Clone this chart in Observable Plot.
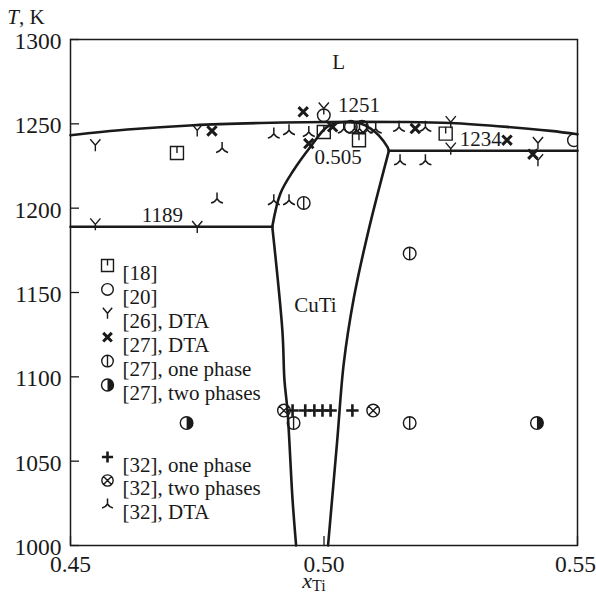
<!DOCTYPE html>
<html><head><meta charset="utf-8">
<script src="https://cdn.jsdelivr.net/npm/d3@7"></script>
<script src="https://cdn.jsdelivr.net/npm/@observablehq/plot@0.6"></script>
<style>body{margin:0;background:#fff} svg{display:block} svg text{font-family:"Liberation Serif","Tinos","Times New Roman",Times,"DejaVu Serif","Noto Serif",serif !important;}</style>
</head><body><div id="chart"></div>
<script>
// ---- axis ticks ----
const xTicks = [0.45, 0.50, 0.55];
const yTicks = [1000, 1050, 1100, 1150, 1200, 1250, 1300];

// ---- phase boundaries ----
const liquidusX = [0.45, 0.4612, 0.4743, 0.4875, 0.5007, 0.515, 0.525, 0.5361, 0.5447, 0.55];
const liquidusT = [1243.2, 1246.6, 1249.2, 1250.5, 1251.1, 1251.1, 1250.5, 1248.2, 1245.8, 1243.8];
const eutecticX = [0.45, 0.4898];
const eutecticT = [1189, 1189];
const domeX = [0.4898, 0.4914, 0.4940, 0.4973, 0.5006, 0.5030, 0.5050, 0.5072, 0.5092, 0.5108, 0.5125, 0.5128];
const domeT = [1189, 1208.7, 1222.5, 1236.3, 1248.2, 1250.8, 1251.0, 1250.2, 1247.2, 1243.2, 1236.3, 1234];
const leftX = [0.4898, 0.4918, 0.4922, 0.4928, 0.4938, 0.4945];
const leftT = [1189, 1127, 1098, 1080, 1027, 1000];
const rightX = [0.5128, 0.5088, 0.5059, 0.5039, 0.5026, 0.5008];
const rightT = [1234, 1187, 1147, 1108, 1062, 1000];
const peritecticX = [0.5128, 0.55];
const peritecticT = [1234, 1234];

// ---- experimental points ----
const ref18X = [0.4710, 0.49996, 0.5069, 0.5240];
const ref18T = [1232.7, 1245.2, 1240.3, 1244.2];
const ref20X = [0.49996, 0.5053, 0.5075, 0.5493];
const ref20T = [1255.1, 1248.2, 1248.2, 1240.3];
const ref26X = [0.4549, 0.4750, 0.49996, 0.5250, 0.5250, 0.5422, 0.5422, 0.4549, 0.4750];
const ref26T = [1237.3, 1246.1, 1259.1, 1251.0, 1235.3, 1238.6, 1228.4, 1190.4, 1188.8];
const ref27dtaX = [0.4779, 0.4959, 0.4970, 0.5017, 0.5180, 0.5361, 0.5412];
const ref27dtaT = [1245.8, 1257.1, 1238.3, 1248.2, 1247.2, 1240.3, 1232.0];
const ref27oneX = [0.4960, 0.5169, 0.4940, 0.5169];
const ref27oneT = [1203.1, 1173.1, 1072.6, 1072.6];
const ref27twoX = [0.4729, 0.5420];
const ref27twoT = [1072.6, 1072.6];
const ref32oneX = [0.4938, 0.4963, 0.4981, 0.4997, 0.5013, 0.5056];
const ref32oneT = [1080, 1080, 1080, 1080, 1080, 1080];
const ref32twoX = [0.4921, 0.5097];
const ref32twoT = [1080, 1080];
const ref32dtaX = [0.4799, 0.4901, 0.4931, 0.4970, 0.4789, 0.4901, 0.4931, 0.5039, 0.5060, 0.5070, 0.5084, 0.5102, 0.5148, 0.5200, 0.5150, 0.5200];
const ref32dtaT = [1235.7, 1244.2, 1246.2, 1245.2, 1205.7, 1204.7, 1204.7, 1247.2, 1247.2, 1247.2, 1247.2, 1247.2, 1248.2, 1248.2, 1228.4, 1228.4];

// ---- annotations ----
const noteText = ["L", "1251", "0.505", "1234", "1189", "CuTi"];
const noteX = [0.5029, 0.5069, 0.5028, 0.5309, 0.4681, 0.4983];
const noteT = [1286.5, 1260.8, 1230.2, 1240.7, 1195.6, 1142.4];

// ---- legend ----
const legendTop = ["[18]", "[20]", "[26], DTA", "[27], DTA", "[27], one phase", "[27], two phases"];
const legendBottom = ["[32], one phase", "[32], two phases", "[32], DTA"];

// ---- symbols ----
const R = s => Math.sqrt(s / Math.PI);
const symSquareTick = {draw(c, s) { const r = R(s); c.rect(-r, -r, 2 * r, 2 * r); c.moveTo(0, -r); c.lineTo(0, 0); }};
const symCircle = {draw(c, s) { const r = R(s); c.moveTo(r, 0); c.arc(0, 0, r, 0, 2 * Math.PI); }};
const symY = {draw(c, s) { const r = R(s); c.moveTo(-r * 0.85, -r); c.lineTo(0, 0); c.lineTo(r * 0.85, -r); c.moveTo(0, 0); c.lineTo(0, r); }};
const symX = {draw(c, s) { const r = R(s) * 0.72; c.moveTo(-r, -r); c.lineTo(r, r); c.moveTo(r, -r); c.lineTo(-r, r); }};
const symPhi = {draw(c, s) { const r = R(s); c.moveTo(r, 0); c.arc(0, 0, r, 0, 2 * Math.PI); c.moveTo(0, -r); c.lineTo(0, r); }};
const symHalf = {draw(c, s) { const r = R(s); c.moveTo(0, -r); c.arc(0, 0, r, -Math.PI / 2, Math.PI / 2); c.closePath(); }};
const symPlus = {draw(c, s) { const r = R(s); c.moveTo(-r, 0); c.lineTo(r, 0); c.moveTo(0, -r); c.lineTo(0, r); }};
const symOtimes = {draw(c, s) { const r = R(s); c.moveTo(r, 0); c.arc(0, 0, r, 0, 2 * Math.PI); const k = r * 0.7; c.moveTo(-k, -k); c.lineTo(k, k); c.moveTo(k, -k); c.lineTo(-k, k); }};
const symTri = {draw(c, s) { const r = R(s); c.moveTo(0, -r); c.lineTo(0, 0); c.quadraticCurveTo(-r * 0.35, r * 0.6, -r, r * 0.75); c.moveTo(0, 0); c.quadraticCurveTo(r * 0.35, r * 0.6, r, r * 0.75); }};

const ink = "#1a1a1a";
const serif = "'Liberation Serif', 'Tinos', 'Times New Roman', Times, 'DejaVu Serif', serif";
const styles = {
  sq:   {symbol: symSquareTick, r: 6.5, stroke: ink, fill: "none", strokeWidth: 1.4},
  circ: {symbol: symCircle, r: 6.3, stroke: ink, fill: "none", strokeWidth: 1.4},
  y:    {symbol: symY, r: 6, stroke: ink, fill: "none", strokeWidth: 1.4},
  x:    {symbol: symX, r: 6.5, stroke: ink, fill: "none", strokeWidth: 3},
  phi:  {symbol: symPhi, r: 6.3, stroke: ink, fill: "none", strokeWidth: 1.4},
  half: {symbol: symHalf, r: 6.3, stroke: "none", fill: ink},
  plus: {symbol: symPlus, r: 6.2, stroke: ink, fill: "none", strokeWidth: 2.6},
  ot:   {symbol: symOtimes, r: 6.3, stroke: ink, fill: "none", strokeWidth: 1.4},
  tri:  {symbol: symTri, r: 6, stroke: ink, fill: "none", strokeWidth: 1.5}
};

function pts(xs, ts) { return xs.map((x, i) => ({x, T: ts[i]})); }
function dots(xs, ts, st, extra = {}) { return Plot.dot(pts(xs, ts), {x: "x", y: "T", ...st, ...extra}); }

const segments = [
  ["liq", liquidusX, liquidusT], ["eut", eutecticX, eutecticT], ["dome", domeX, domeT],
  ["left", leftX, leftT], ["right", rightX, rightT], ["per", peritecticX, peritecticT]
];
const lineRows = segments.flatMap(([k, xs, ts]) => xs.map((x, i) => ({k, x, T: ts[i]})));

const W = 596, H = 594, mL = 70, mR = 19, mT = 39, mB = 49;
const frameW = W - mL - mR, frameH = H - mT - mB;

// legend marks
const legendMarks = [];
const legTopStyles = [styles.sq, styles.circ, styles.y, styles.x, styles.phi, null];
legendTop.forEach((label, i) => {
  const dy = 226 + 23.9 * i;
  if (i === 5) {
    legendMarks.push(Plot.dot([0], {frameAnchor: "top-left", dx: 37, dy, symbol: symCircle, r: 6, stroke: ink, fill: "none", strokeWidth: 1.4}));
    legendMarks.push(Plot.dot([0], {frameAnchor: "top-left", dx: 37, dy, ...styles.half, r: 6}));
  } else {
    legendMarks.push(Plot.dot([0], {frameAnchor: "top-left", dx: 37, dy, ...legTopStyles[i], r: legTopStyles[i].r * 0.92}));
  }
  legendMarks.push(Plot.text([label], {text: d => d, frameAnchor: "top-left", dx: 52, dy, textAnchor: "start", fontSize: 21, fill: ink}));
});
const legBotStyles = [styles.plus, styles.ot, styles.tri];
legendBottom.forEach((label, i) => {
  const dy = 417.5 + 23.5 * i;
  legendMarks.push(Plot.dot([0], {frameAnchor: "top-left", dx: 37, dy, ...legBotStyles[i], r: legBotStyles[i].r * 0.9}));
  legendMarks.push(Plot.text([label], {text: d => d, frameAnchor: "top-left", dx: 52, dy, textAnchor: "start", fontSize: 21, fill: ink}));
});

const plot = Plot.plot({
  width: W, height: H,
  marginLeft: mL, marginRight: mR, marginTop: mT, marginBottom: mB,
  x: {domain: [0.45, 0.55]},
  y: {domain: [1000, 1300]},
  style: {fontFamily: serif, fontSize: "21px", color: ink, background: "#fff", overflow: "visible"},
  marks: [
    Plot.frame({stroke: ink, strokeWidth: 1.5}),
    Plot.tickY(yTicks, {y: d => d, insetRight: frameW - 9, stroke: ink, strokeWidth: 1.3}),
    Plot.tickX(xTicks, {x: d => d, insetTop: frameH - 9, stroke: ink, strokeWidth: 1.3}),
    Plot.axisY({ticks: yTicks, tickSize: 0, tickPadding: 9, dy: 2, fontSize: 23.5, label: null, tickFormat: d => String(d)}),
    Plot.axisX({ticks: xTicks.slice(0, 2), tickSize: 0, tickPadding: 10, fontSize: 23.5, label: null, tickFormat: d3.format(".2f")}),
    Plot.axisX({ticks: xTicks.slice(2), tickSize: 0, tickPadding: 10, dx: -2, fontSize: 23.5, label: null, tickFormat: d3.format(".2f")}),
    Plot.line(lineRows, {x: "x", y: "T", z: "k", curve: "catmull-rom", stroke: ink, strokeWidth: 2.6}),
    Plot.text(noteText, {text: d => d, x: (d, i) => noteX[i], y: (d, i) => noteT[i], fontSize: 21, fill: ink}),
    dots(ref18X, ref18T, styles.sq),
    dots(ref20X, ref20T, styles.circ, {clip: true}),
    dots(ref26X, ref26T, styles.y),
    dots(ref27dtaX, ref27dtaT, styles.x),
    dots(ref27oneX, ref27oneT, styles.phi),
    dots(ref27twoX, ref27twoT, {...styles.circ}),
    dots(ref27twoX, ref27twoT, styles.half),
    dots(ref32oneX, ref32oneT, styles.plus),
    dots(ref32twoX, ref32twoT, styles.ot),
    dots(ref32dtaX, ref32dtaT, styles.tri),
    ...legendMarks
  ]
});

const svg = d3.select(plot);
const yl = svg.append("text").attr("x", 26).attr("y", 24).attr("fill", ink)
  .attr("font-family", serif).attr("font-size", 21);
yl.append("tspan").attr("font-style", "italic").text("T");
yl.append("tspan").text(", K");
const xl = svg.append("text").attr("x", 314).attr("y", 588).attr("fill", ink)
  .attr("font-family", serif).attr("font-size", 22);
xl.append("tspan").attr("font-style", "italic").text("x");
xl.append("tspan").attr("font-size", 16).attr("dy", 3).text("Ti");

document.getElementById("chart").appendChild(plot);
</script>
</body></html>
